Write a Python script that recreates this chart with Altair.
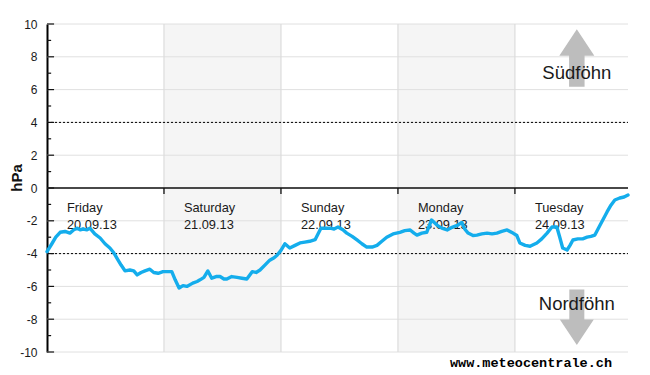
import altair as alt
import pandas as pd

# ---- data ----
hours = [0, 1.0, 1.8, 2.7, 3.7, 4.7, 5.5, 6.2, 6.8, 7.4, 8.2, 8.8, 9.8, 10.9, 11.9, 12.9,
         13.7, 14.4, 15.2, 16.0, 17.0, 17.8, 18.5, 19.3, 20.1, 21.1, 21.9, 22.8, 23.8, 24.8,
         25.6, 26.3, 27.1, 27.9, 28.7, 29.9, 30.8, 31.4, 32.2, 33.0, 33.8, 34.7, 35.5, 36.3,
         36.9, 37.9, 39.0, 40.0, 41.0, 42.1, 42.9, 43.7, 44.7, 45.7, 46.6, 47.2, 48.0, 48.8,
         49.8, 50.9, 51.9, 52.9, 53.9, 55.0, 55.6, 56.2, 57.2, 58.1, 58.9, 59.7, 60.7, 61.5,
         62.6, 63.6, 64.6, 65.6, 66.7, 67.7, 68.7, 69.7, 71.0, 72.4, 73.4, 74.5, 75.3, 75.9,
         76.9, 77.9, 78.9, 80.0, 81.0, 82.1, 83.1, 84.3, 85.1, 85.7, 86.4, 87.4, 88.2, 89.2,
         90.3, 91.3, 92.3, 93.3, 94.4, 95.6, 96.4, 97.0, 98.1, 99.1, 100.5, 101.5, 102.6,
         103.6, 104.6, 105.2, 105.8, 106.7, 107.3, 107.9, 108.9, 109.9, 110.8, 111.6, 112.4,
         113.4, 114.3, 114.9, 115.7, 116.5, 117.5, 118.4, 119.2]
pressure = [-3.88, -3.4, -3.0, -2.7, -2.65, -2.75, -2.55, -2.45, -2.55, -2.5, -2.55, -2.45,
            -2.8, -3.05, -3.4, -3.66, -3.95, -4.3, -4.7, -5.05, -5.0, -5.05, -5.3, -5.15,
            -5.05, -4.95, -5.15, -5.2, -5.1, -5.1, -5.1, -5.6, -6.1, -5.95, -6.0, -5.8, -5.7,
            -5.6, -5.45, -5.06, -5.5, -5.4, -5.4, -5.55, -5.55, -5.4, -5.45, -5.5, -5.55,
            -5.1, -5.15, -5.0, -4.7, -4.4, -4.25, -4.1, -3.8, -3.4, -3.66, -3.5, -3.35, -3.3,
            -3.25, -3.15, -2.8, -2.45, -2.45, -2.45, -2.5, -2.38, -2.55, -2.75, -2.95, -3.17,
            -3.4, -3.6, -3.6, -3.5, -3.25, -3.0, -2.8, -2.7, -2.6, -2.56, -2.75, -2.87, -2.75,
            -2.7, -1.95, -2.26, -2.45, -2.56, -2.4, -2.26, -2.1, -2.5, -2.75, -2.9, -2.87,
            -2.8, -2.75, -2.8, -2.75, -2.65, -2.56, -2.75, -2.9, -3.35, -3.5, -3.55, -3.35,
            -3.1, -2.75, -2.38, -2.38, -3.0, -3.66, -3.78, -3.5, -3.17, -3.1, -3.1, -3.0,
            -2.95, -2.87, -2.3, -1.8, -1.46, -1.05, -0.73, -0.61, -0.55, -0.43]

day_names = ["Friday", "Saturday", "Sunday", "Monday", "Tuesday"]
day_dates = ["20.09.13", "21.09.13", "22.09.13", "23.09.13", "24.09.13"]
day_starts = [0, 24, 48, 72, 96]
shaded_starts = [24, 72]
shaded_ends = [48, 96]
grid_values = [-10, -8, -6, -4, -2, 0, 2, 4, 6, 8, 10]
minor_values = [-9, -7, -5, -3, -1, 1, 3, 5, 7, 9]
limit_values = [-4, 4]
foehn_labels = ["Südföhn", "Nordföhn"]
foehn_label_y = [6.63, -7.44]
foehn_arrow_y = [7.93, -7.88]
foehn_x = 108.7
x_end = 119.2

UP = "M0,-1L0.61,-0.08L0.27,-0.08L0.27,1L-0.27,1L-0.27,-0.08L-0.61,-0.08Z"
DOWN = "M0,1L0.61,0.08L0.27,0.08L0.27,-1L-0.27,-1L-0.27,0.08L-0.61,0.08Z"

line_df = pd.DataFrame({"h": hours, "p": pressure})
days_df = pd.DataFrame({"start": day_starts, "name": day_names, "date": day_dates,
                        "lx": [s + 4.1 for s in day_starts]})
bands_df = pd.DataFrame({"a": shaded_starts, "b": shaded_ends, "top": 10, "bot": -10})
grid_df = pd.DataFrame({"v": grid_values, "x0": 0, "x1": x_end})
vgrid_df = pd.DataFrame({"h": day_starts[1:], "top": 10, "bot": -10})
major_df = pd.DataFrame({"v": grid_values, "x0": 0, "x1": 1.45})
minor_df = pd.DataFrame({"v": minor_values, "x0": 0, "x1": 0.85})
limit_df = pd.DataFrame({"v": limit_values, "x0": 0, "x1": x_end})
zero_df = pd.DataFrame({"v": [0], "x0": [0], "x1": [x_end]})
zt_df = pd.DataFrame({"h": day_starts[1:], "y0": 0, "y1": -0.37})
arrow_up_df = pd.DataFrame({"h": [foehn_x], "v": [foehn_arrow_y[0]]})
arrow_dn_df = pd.DataFrame({"h": [foehn_x], "v": [foehn_arrow_y[1]]})
flab_df = pd.DataFrame({"h": [foehn_x, foehn_x], "v": foehn_label_y, "t": foehn_labels})

xs = alt.Scale(domain=[0, x_end], nice=False, zero=False)
ys = alt.Scale(domain=[-10, 10], nice=False)
y_axis = alt.Axis(title="hPa", values=grid_values, grid=False, ticks=False,
                  tickSize=0, labelPadding=10, domainColor="#000",
                  domainWidth=2, labelFont="Liberation Sans", labelFontSize=12,
                  labelColor="#1a1a1a", labelExpr="datum.value",
                  titleFont="Liberation Sans", titleFontSize=15,
                  titleFontWeight="bold", titleColor="#111", titleAngle=-90,
                  titleX=-26, titleY=153.5, titleAlign="center",
                  titleBaseline="alphabetic")
X = lambda f: alt.X(f, type="quantitative", scale=xs, axis=None)
Y = lambda f: alt.Y(f, type="quantitative", scale=ys, axis=y_axis)

bands = alt.Chart(bands_df).mark_rect(color="#f5f5f5").encode(
    x=X("a"), x2="b", y=Y("top"), y2="bot")
hgrid = alt.Chart(grid_df).mark_rule(color="#e0e0e0", strokeWidth=1).encode(
    x=X("x0"), x2="x1", y=Y("v"))
vgrid = alt.Chart(vgrid_df).mark_rule(color="#dcdcdc", strokeWidth=1.2).encode(
    x=X("h"), y=Y("top"), y2="bot")
limits = alt.Chart(limit_df).mark_rule(color="#000", strokeWidth=1, strokeDash=[2, 2]).encode(
    x=X("x0"), x2="x1", y=Y("v"))
zero = alt.Chart(zero_df).mark_rule(color="#111", strokeWidth=1.3).encode(
    x=X("x0"), x2="x1", y=Y("v"))
zticks = alt.Chart(zt_df).mark_rule(color="#111", strokeWidth=1.3).encode(
    x=X("h"), y=Y("y0"), y2="y1")
major = alt.Chart(major_df).mark_rule(color="#111", strokeWidth=1.2).encode(
    x=X("x0"), x2="x1", y=Y("v"))
minor = alt.Chart(minor_df).mark_rule(color="#111", strokeWidth=1.2).encode(
    x=X("x0"), x2="x1", y=Y("v"))
arrow_up = alt.Chart(arrow_up_df).mark_point(shape=UP, size=3295, filled=True,
                                             color="#bdbdbd", opacity=1).encode(
    x=X("h"), y=Y("v"))
arrow_dn = alt.Chart(arrow_dn_df).mark_point(shape=DOWN, size=3100, filled=True,
                                             color="#bdbdbd", opacity=1).encode(
    x=X("h"), y=Y("v"))
flab = alt.Chart(flab_df).mark_text(font="Liberation Sans", fontSize=18.5, color="#1a1a1a",
                                    align="center", baseline="alphabetic").encode(
    x=X("h"), y=Y("v"), text="t:N")
dname = alt.Chart(days_df).transform_calculate(yy="-1.48").mark_text(
    font="Liberation Sans", fontSize=12.8, color="#1a1a1a", align="left",
    baseline="alphabetic").encode(x=X("lx"), y=Y("yy"), text="name:N")
ddate = alt.Chart(days_df).transform_calculate(yy="-2.5").mark_text(
    font="Liberation Sans", fontSize=12.8, color="#1a1a1a", align="left",
    baseline="alphabetic").encode(x=X("lx"), y=Y("yy"), text="date:N")
line = alt.Chart(line_df).mark_line(color="#14adec", strokeWidth=3.4,
                                    strokeJoin="round", strokeCap="round").encode(
    x=X("h"), y=Y("p"))

chart = alt.layer(bands, hgrid, vgrid, limits, zero, zticks, major, minor,
                  arrow_up, arrow_dn, flab, dname, ddate, line).properties(
    width=581, height=328,
    autosize=alt.AutoSizeParams(type="none"),
    padding={"left": 39, "top": 16, "right": 14, "bottom": 30},
    title=alt.TitleParams("www.meteocentrale.ch", orient="bottom", anchor="end",
                          frame="group", font="Liberation Mono", fontSize=13.5,
                          fontWeight="bold", color="#000", dx=-16, offset=-2),
).configure_view(stroke=None)

chart.save("out.html", embed_options={"renderer": "svg", "actions": False})
